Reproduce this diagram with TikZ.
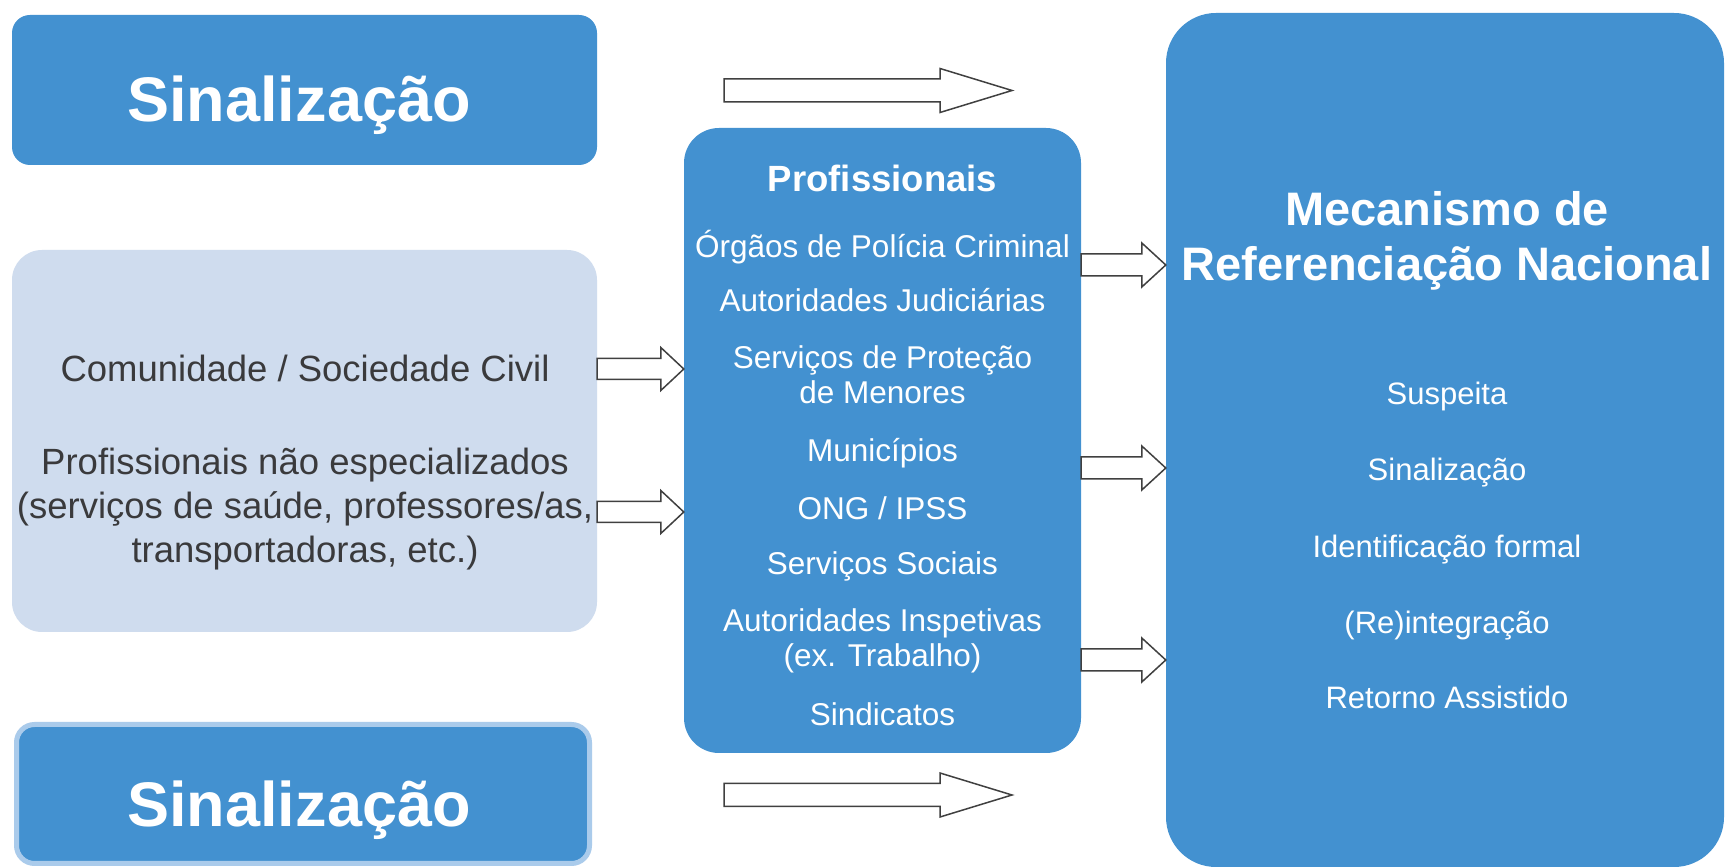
\documentclass[tikz,border=0pt]{standalone}
\usepackage{fontspec}
\setmainfont{Liberation Sans}
\usetikzlibrary{calc}
\definecolor{boxblue}{RGB}{67,145,208}
\definecolor{boxlight}{RGB}{207,220,238}
\definecolor{boxedge}{RGB}{170,203,235}
\definecolor{textdark}{RGB}{58,58,60}
\begin{document}
\begin{tikzpicture}[line join=miter,
    box/.style={rectangle,fill=boxblue,inner sep=0pt},
    bigtxt/.style={anchor=base,text=white,font=\fontsize{63bp}{70bp}\selectfont\bfseries},
    darktxt/.style={align=center,text=textdark,font=\fontsize{36.5bp}{44bp}\selectfont},
    proftxt/.style={anchor=base,text=white,font=\fontsize{31.5bp}{35bp}\selectfont},
    mrntxt/.style={anchor=base,text=white,font=\fontsize{31bp}{35bp}\selectfont},
    blockarrow/.style n args={3}{draw=black!75,fill=white,line width=1.5bp,
      to path={let \p1=(\tikztostart), \p2=(\tikztotarget) in
        (\x1,\y1+#1) -- (\x2-#3,\y1+#1) -- (\x2-#3,\y1+#2) -- (\x2,\y1)
        -- (\x2-#3,\y1-#2) -- (\x2-#3,\y1-#1) -- (\x1,\y1-#1) -- cycle}},
  ]
    %%
    \fill[white] (0bp,0bp) rectangle (1726bp,868bp);
    \useasboundingbox (0bp,0bp) rectangle (1726bp,868bp);
    %% boxes
    \node (sigtop) at (304.5bp,778bp) [box,rounded corners=18bp,minimum width=585bp,minimum height=150bp] {};
    \node (lbox) at (304.5bp,427bp) [box,fill=boxlight,rounded corners=30bp,minimum width=585bp,minimum height=382bp] {};
    \node (sigbot) at (303bp,74bp) [box,draw=boxedge,line width=5bp,rounded corners=18bp,minimum width=573bp,minimum height=139bp] {};
    \node (prof) at (882.5bp,427.5bp) [box,rounded corners=35bp,minimum width=397bp,minimum height=625bp] {};
    \node (mrn) at (1445bp,428bp) [box,rounded corners=50bp,minimum width=558bp,minimum height=854bp] {};
    %% texts
    \node (sigtoptxt) at (299bp,746bp) [bigtxt] {Sinalização};
    \node (sigbottxt) at (299bp,41bp) [bigtxt] {Sinalização};
    \node (comm) at (305bp,486bp) [darktxt,anchor=base] {Comunidade / Sociedade Civil};
    \node (naoesp) at (305bp,359bp) [darktxt] {Profissionais não especializados\\(serviços de saúde, professores/as,\\transportadoras, etc.)};
    \node (proftitle) at (882.5bp,676bp) [proftxt,font=\fontsize{36.5bp}{40bp}\selectfont\bfseries] {Profissionais};
    \node (p1) at (882.5bp,610bp) [proftxt] {Órgãos de Polícia Criminal};
    \node (p2) at (882.5bp,556bp) [proftxt] {Autoridades Judiciárias};
    \node (p3) at (882.5bp,499bp) [proftxt] {Serviços de Proteção};
    \node (p3b) at (882.5bp,464bp) [proftxt] {de Menores};
    \node (p4) at (882.5bp,406bp) [proftxt] {Municípios};
    \node (p5) at (882.5bp,348bp) [proftxt] {ONG / IPSS};
    \node (p6) at (882.5bp,293bp) [proftxt] {Serviços Sociais};
    \node (p7) at (882.5bp,236bp) [proftxt] {Autoridades Inspetivas};
    \node (p7b) at (882.5bp,201bp) [proftxt] {(ex. Trabalho)};
    \node (p8) at (882.5bp,142bp) [proftxt] {Sindicatos};
    \node (mrntitle) at (1447bp,587bp) [anchor=base,align=center,text=white,font=\fontsize{47bp}{55bp}\selectfont\bfseries] {Mecanismo de\\Referenciação Nacional};
    \node (m1) at (1447bp,463bp) [mrntxt] {Suspeita};
    \node (m2) at (1447bp,387bp) [mrntxt] {Sinalização};
    \node (m3) at (1447bp,310bp) [mrntxt] {Identificação formal};
    \node (m4) at (1447bp,234bp) [mrntxt] {(Re)integração};
    \node (m5) at (1447bp,159bp) [mrntxt] {Retorno Assistido};
    %% arrows
    \coordinate (tops) at (724bp,777.5bp);
    \coordinate (tope) at (1012bp,777.5bp);
    \coordinate (bots) at (724bp,73bp);
    \coordinate (bote) at (1012bp,73bp);
    \coordinate (c1s) at (lbox.east |- 0,499bp);
    \coordinate (c1e) at (prof.west |- 0,499bp);
    \coordinate (c2s) at (lbox.east |- 0,356bp);
    \coordinate (c2e) at (prof.west |- 0,356bp);
    \coordinate (r1s) at (prof.east |- 0,603bp);
    \coordinate (r1e) at (mrn.west |- 0,603bp);
    \coordinate (r2s) at (prof.east |- 0,400bp);
    \coordinate (r2e) at (mrn.west |- 0,400bp);
    \coordinate (r3s) at (prof.east |- 0,208bp);
    \coordinate (r3e) at (mrn.west |- 0,208bp);
    \draw [blockarrow={11.5bp}{22bp}{72bp}] (tops) to (tope);
    \draw [blockarrow={11.5bp}{22bp}{72bp}] (bots) to (bote);
    \draw [blockarrow={10.5bp}{21.5bp}{23bp}] (c1s) to (c1e);
    \draw [blockarrow={10.5bp}{21.5bp}{23bp}] (c2s) to (c2e);
    \draw [blockarrow={11bp}{22bp}{24bp}] (r1s) to (r1e);
    \draw [blockarrow={11bp}{22bp}{24bp}] (r2s) to (r2e);
    \draw [blockarrow={11bp}{22bp}{24bp}] (r3s) to (r3e);
    %
\end{tikzpicture}
\end{document}
